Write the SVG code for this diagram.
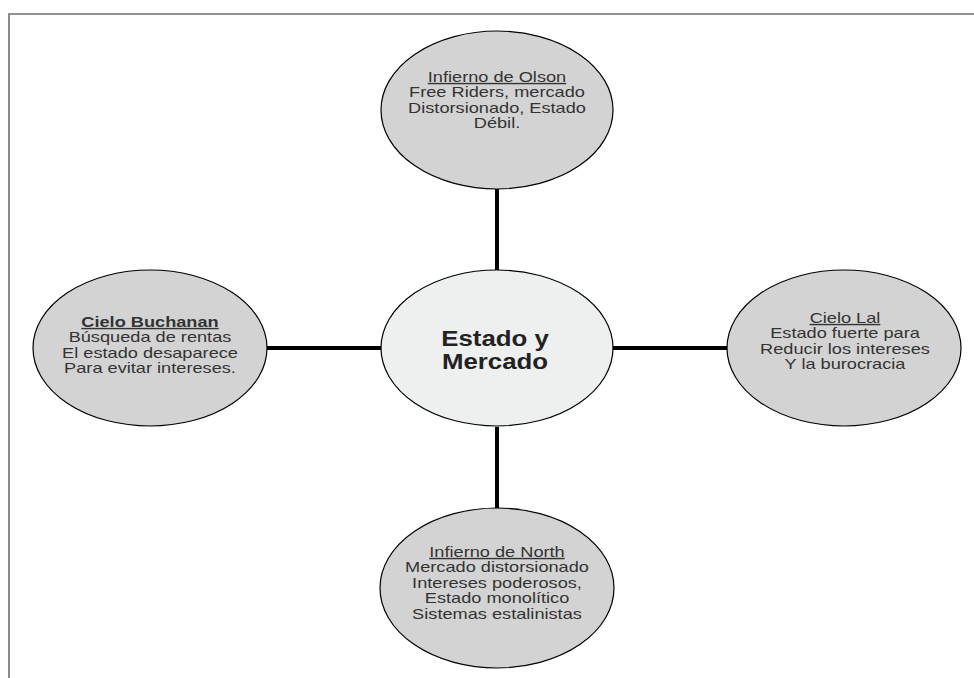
<svg xmlns="http://www.w3.org/2000/svg" width="974" height="678" viewBox="0 0 974 678">
<style>
.frame{fill:none;stroke:#6e6e6e;stroke-width:1.6}
.node{fill:#d3d3d3;stroke:#000;stroke-width:1.2}
.hub{fill:#eeefef;stroke:#000;stroke-width:1.2}
.conn{stroke:#000;stroke-width:4;fill:none}
text{font-family:"Liberation Sans",Arial,sans-serif;font-size:14px;fill:#333;text-anchor:middle}
.u{text-decoration:underline}
.b{font-weight:bold}
.big{font-weight:bold;font-size:21.5px;fill:#222}
</style>
<rect width="974" height="678" fill="#fff"/>
<path class="frame" d="M9,678 V14 H974"/>
<g id="connectors">
<line class="conn" x1="497" y1="189" x2="497" y2="270"/>
<line class="conn" x1="497" y1="427" x2="497" y2="509"/>
<line class="conn" x1="266" y1="348" x2="382" y2="348"/>
<line class="conn" x1="612" y1="348" x2="728" y2="348"/>
</g>
<g id="hub">
<ellipse class="hub" cx="497" cy="348" rx="116" ry="78"/>
<g transform="matrix(1.2 0 0 1 495 0)">
<text class="big" x="0" y="346">Estado y</text>
<text class="big" x="0" y="369">Mercado</text>
</g>
</g>
<g id="olson">
<ellipse class="node" cx="497" cy="110" rx="116" ry="79"/>
<g transform="matrix(1.3 0 0 1 497 0)">
<text class="u" x="0" y="82">Infierno de Olson</text>
<text x="0" y="97.5">Free Riders, mercado</text>
<text x="0" y="113">Distorsionado, Estado</text>
<text x="0" y="128.5">Débil.</text>
</g>
</g>
<g id="buchanan">
<ellipse class="node" cx="150" cy="348" rx="117" ry="78"/>
<g transform="matrix(1.3 0 0 1 150 0)">
<text class="u b" x="0" y="327">Cielo Buchanan</text>
<text x="0" y="342.5">Búsqueda de rentas</text>
<text x="0" y="358">El estado desaparece</text>
<text x="0" y="373.5">Para evitar intereses.</text>
</g>
</g>
<g id="lal">
<ellipse class="node" cx="844" cy="348" rx="117" ry="78"/>
<g transform="matrix(1.3 0 0 1 845 0)">
<text class="u" x="0" y="323">Cielo Lal</text>
<text x="0" y="338.5">Estado fuerte para</text>
<text x="0" y="354">Reducir los intereses</text>
<text x="0" y="369.5">Y la burocracia</text>
</g>
</g>
<g id="north">
<ellipse class="node" cx="497" cy="588" rx="117" ry="80"/>
<g transform="matrix(1.3 0 0 1 497 0)">
<text class="u" x="0" y="557">Infierno de North</text>
<text x="0" y="572.5">Mercado distorsionado</text>
<text x="0" y="588">Intereses poderosos,</text>
<text x="0" y="603.5">Estado monolítico</text>
<text x="0" y="619">Sistemas estalinistas</text>
</g>
</g>
</svg>
